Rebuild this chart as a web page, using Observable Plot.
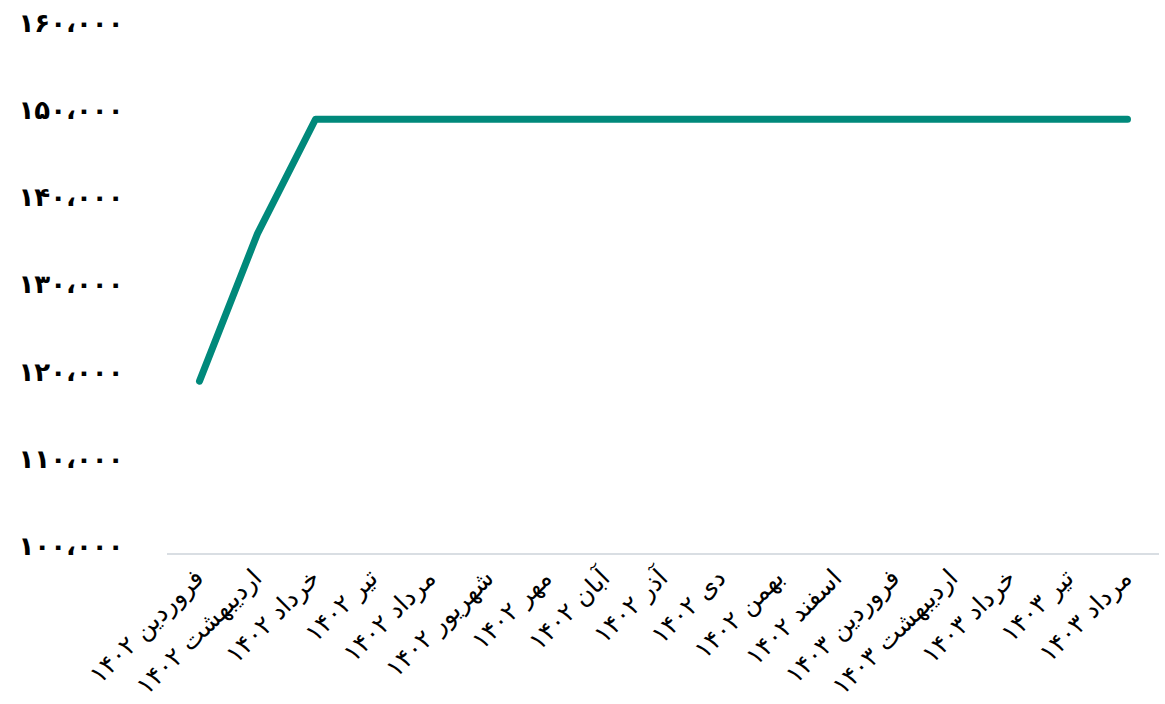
<!DOCTYPE html>
<html>
<head>
<meta charset="utf-8">
<script src="https://cdn.jsdelivr.net/npm/d3@7"></script>
<script src="https://cdn.jsdelivr.net/npm/@observablehq/plot@0.6"></script>
<style>
  html, body { margin: 0; padding: 0; background: #fff; }
  #chart svg { display: block; }
</style>
</head>
<body>
<div id="chart"></div>
<script>
const months = [
  "فروردین ۱۴۰۲", "اردیبهشت ۱۴۰۲", "خرداد ۱۴۰۲", "تیر ۱۴۰۲", "مرداد ۱۴۰۲",
  "شهریور ۱۴۰۲", "مهر ۱۴۰۲", "آبان ۱۴۰۲", "آذر ۱۴۰۲", "دی ۱۴۰۲",
  "بهمن ۱۴۰۲", "اسفند ۱۴۰۲", "فروردین ۱۴۰۳", "اردیبهشت ۱۴۰۳", "خرداد ۱۴۰۳",
  "تیر ۱۴۰۳", "مرداد ۱۴۰۳"
];
const values = [
  119800, 136700, 149800, 149800, 149800,
  149800, 149800, 149800, 149800, 149800,
  149800, 149800, 149800, 149800, 149800,
  149800, 149800
];
const yTicks = [100000, 110000, 120000, 130000, 140000, 150000, 160000];

const faDigits = "۰۱۲۳۴۵۶۷۸۹";
const fa = (v) => d3.format(",")(v).replace(/\d/g, (d) => faDigits[+d]).replace(/,/g, "،");

const data = months.map((m, i) => ({month: m, value: values[i]}));

const chart = Plot.plot({
  width: 1165,
  height: 704,
  marginTop: 29.7,
  marginBottom: 150.5,
  marginLeft: 167,
  marginRight: 6,
  style: {fontFamily: "DejaVu Sans", background: "white", color: "#000"},
  x: {type: "point", domain: months, padding: 0.5, label: null},
  y: {domain: [100000, 160000], label: null},
  marks: [
    Plot.ruleY([100000], {stroke: "#d9dee3", strokeWidth: 2}),
    Plot.axisY({ticks: yTicks, tickSize: 0, tickPadding: 44, tickFormat: fa, fontSize: 26, fontWeight: "bold", label: null, dy: -7}),
    Plot.axisX({tickSize: 0, tickRotate: -45, tickPadding: 20, fontSize: 25, label: null}),
    Plot.line(data, {x: "month", y: "value", stroke: "#00897b", strokeWidth: 7, strokeLinecap: "round", strokeLinejoin: "round"})
  ]
});
document.getElementById("chart").appendChild(chart);
</script>
</body>
</html>
